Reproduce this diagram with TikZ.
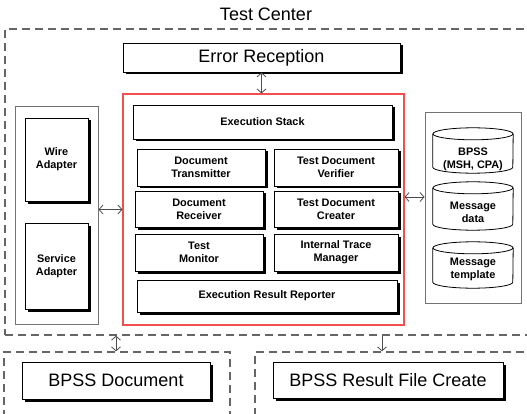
\documentclass[tikz,border=0pt]{standalone}
\usepackage{fontspec}
\setmainfont{Liberation Sans}
\usetikzlibrary{arrows.meta,shadows}
\definecolor{redline}{RGB}{240,80,80}
\newcommand{\cyltext}[3]{\raisebox{-#1}[\height][\depth]{\begin{tabular}{@{}c@{}}#2\\#3\end{tabular}}}
\newcommand{\drawcyl}[1]{%
  \draw[cylline] ([yshift=-6pt]#1.north west) -- ([yshift=6pt]#1.south west)
    arc[start angle=180, end angle=360, x radius=40pt, y radius=6pt]
    -- ([yshift=-6pt]#1.north east);
  \draw[cylline] ([yshift=-6pt]#1.north) ellipse [x radius=40pt, y radius=6pt];}
\begin{document}
\begin{tikzpicture}[x=1pt,y=-1pt,
  box/.style={draw=black, line width=0.8pt, fill=white, align=center, inner sep=0pt,
    drop shadow={shadow xshift=2.5pt, shadow yshift=-2.5pt, opacity=1, fill=black}},
  bigbox/.style={box, font=\fontsize{18}{21}\selectfont},
  smallbox/.style={box, font=\fontsize{10.9}{13}\selectfont\bfseries},
  dashbox/.style={draw=black!60, line width=1.3pt, dash pattern=on 8pt off 5pt, inner sep=0pt},
  graybox/.style={draw=black!55, line width=1pt, inner sep=0pt},
  redbox/.style={draw=redline, line width=1.1pt, inner sep=0pt},
  cylnode/.style={minimum width=80pt, inner sep=0pt, font=\fontsize{10.9}{13}\selectfont\bfseries},
  cylline/.style={draw=black, line width=0.8pt},
  dbl/.style={{Straight Barb[length=4pt,width=9pt]}-{Straight Barb[length=4pt,width=9pt]}, draw=black!70, line width=0.8pt},
  sgl/.style={-{Straight Barb[length=4pt,width=9pt]}, draw=black!70, line width=0.8pt},
  ttl/.style={font=\fontsize{18}{21}\selectfont, inner sep=0pt}
]
\useasboundingbox (0,0) rectangle (527,414);
\clip (0,0) rectangle (527,414);

\node[ttl] (title) at (266,14) {Test Center};
\node[dashbox, minimum width=555pt, minimum height=306pt] (tc) at (282.5,182) {};
\node[dashbox, minimum width=226pt, minimum height=88pt] (d1) at (117,396) {};
\node[dashbox, minimum width=305pt, minimum height=88pt] (d2) at (407.5,396) {};

\node[bigbox, minimum width=277pt, minimum height=29pt] (er) at (261.5,57.5) {Error Reception};

\node[redbox, minimum width=281pt, minimum height=231pt] (red) at (263.5,209.5) {};
\node[smallbox, minimum width=259pt, minimum height=34pt] (es) at (262.5,122) {Execution Stack};
\node[smallbox, minimum width=128pt, minimum height=37pt] (dt) at (201,167.5) {Document\\Transmitter};
\node[smallbox, minimum width=128pt, minimum height=36pt] (dr) at (199,209) {Document\\Receiver};
\node[smallbox, minimum width=128pt, minimum height=37pt] (tm) at (199,252.5) {Test\\Monitor};
\node[smallbox, minimum width=124pt, minimum height=37pt] (tv) at (336,167.5) {Test Document\\Verifier};
\node[smallbox, minimum width=124pt, minimum height=36pt] (tcr) at (336,209) {Test Document\\Creater};
\node[smallbox, minimum width=124pt, minimum height=37pt] (itm) at (336,252.5) {Internal Trace\\Manager};
\node[smallbox, minimum width=260pt, minimum height=32pt] (err) at (267,296) {Execution Result Reporter};

\node[graybox, minimum width=83pt, minimum height=217pt] (lg) at (56.5,215.5) {};
\node[smallbox, minimum width=63pt, minimum height=83pt] (wa) at (56.5,159.5) {Wire\\Adapter};
\node[smallbox, minimum width=63pt, minimum height=86pt] (sa) at (56.5,266) {Service\\Adapter};

\node[graybox, minimum width=96pt, minimum height=190pt] (rg) at (473,208) {};
\node[cylnode, minimum height=45pt] (c1) at (473,150.5) {\cyltext{9pt}{BPSS}{(MSH, CPA)}};
\node[cylnode, minimum height=48pt] (c2) at (473,206) {\cyltext{7.5pt}{Message}{data}};
\node[cylnode, minimum height=46pt] (c3) at (473,265) {\cyltext{4pt}{Message}{template}};
\drawcyl{c1}
\drawcyl{c2}
\drawcyl{c3}

\node[bigbox, minimum width=188pt, minimum height=37pt] (bd) at (116,380.5) {BPSS Document};
\node[bigbox, minimum width=230pt, minimum height=36pt] (br) at (388,380) {BPSS Result File Create};

\draw[dbl] (er.south) -- (er.south |- red.north);
\draw[dbl] (lg.east |- red.west) -- (red.west);
\coordinate (ra) at ([yshift=12.5pt]red.east);
\draw[dbl] (ra) -- (ra -| rg.west);
\draw[dbl] (bd.north |- tc.south) -- (bd.north |- d1.north);
\coordinate (rb) at ([xshift=-6pt]br.north |- tc.south);
\draw[sgl] (rb) -- (rb |- d2.north);
\end{tikzpicture}
\end{document}
